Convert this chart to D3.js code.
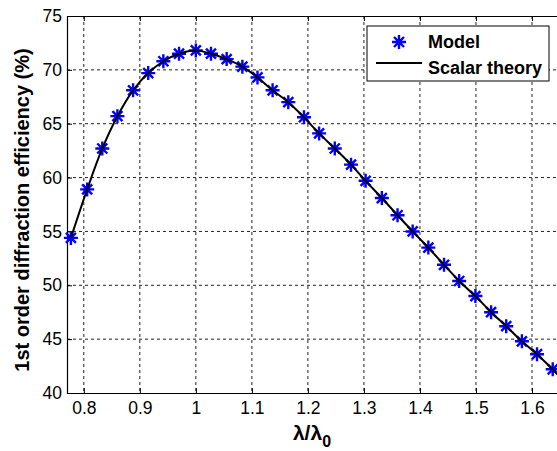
<!DOCTYPE html>
<html>
<head>
<meta charset="utf-8">
<script src="https://cdn.jsdelivr.net/npm/d3@7"></script>
<style>
  body { margin: 0; background: #fff; }
  svg { display: block; font-family: Arial, "Liberation Sans", sans-serif; }
</style>
</head>
<body>
<svg id="chart"></svg>
<script>
// data
const ratio = [0.777, 0.806, 0.833, 0.860, 0.888, 0.915, 0.942, 0.970, 1.000, 1.027,
               1.055, 1.083, 1.110, 1.137, 1.165, 1.193, 1.220, 1.248, 1.277, 1.303,
               1.332, 1.360, 1.387, 1.415, 1.443, 1.470, 1.499, 1.527, 1.554, 1.582,
               1.609, 1.637];
const model = [54.4, 58.9, 62.7, 65.7, 68.1, 69.7, 70.8, 71.5, 71.8, 71.5,
               71.0, 70.3, 69.3, 68.1, 67.0, 65.6, 64.1, 62.7, 61.2, 59.7,
               58.1, 56.5, 55.0, 53.5, 51.9, 50.4, 49.0, 47.5, 46.2, 44.8,
               43.6, 42.2];
// scalar theory curve, same samples plus the end at the right edge
const theoryX = ratio.concat([1.652]);
const theoryY = model.concat([41.5]);

const xTicks = [0.8, 0.9, 1, 1.1, 1.2, 1.3, 1.4, 1.5, 1.6];
const yTicks = [40, 45, 50, 55, 60, 65, 70, 75];

document.addEventListener('DOMContentLoaded', function () {
    const W = 557, H = 451;
    const margin = { top: 16, left: 67 };
    const width = 493, height = 377;

    const svg = d3.select('#chart').attr('width', W).attr('height', H);
    const g = svg.append('g').attr('transform', `translate(${margin.left},${margin.top})`);

    const x = d3.scaleLinear().domain([0.77, 1.65]).range([0, width]);
    const y = d3.scaleLinear().domain([40, 75]).range([height, 0]);

    // dashed grid
    g.append('g').selectAll('line').data(xTicks).join('line')
        .attr('x1', d => x(d)).attr('x2', d => x(d))
        .attr('y1', 0).attr('y2', height)
        .attr('stroke', '#222').attr('stroke-width', 1)
        .attr('stroke-dasharray', '3,3');
    g.append('g').selectAll('line').data(yTicks.slice(1, -1)).join('line')
        .attr('x1', 0).attr('x2', width)
        .attr('y1', d => y(d)).attr('y2', d => y(d))
        .attr('stroke', '#222').attr('stroke-width', 1)
        .attr('stroke-dasharray', '3,3');

    // axes (ticks point inward)
    const xAxis = g.append('g')
        .attr('transform', `translate(0,${height})`)
        .call(d3.axisBottom(x).tickValues(xTicks).tickFormat(d3.format('')).tickSizeInner(-5).tickSizeOuter(0).tickPadding(9));
    const xTop = g.append('g')
        .call(d3.axisTop(x).tickValues(xTicks).tickFormat('').tickSizeInner(-5).tickSizeOuter(0));
    const yAxis = g.append('g')
        .call(d3.axisLeft(y).tickValues(yTicks).tickSizeInner(-5).tickSizeOuter(0).tickPadding(5));

    [xAxis, xTop, yAxis].forEach(a => {
        a.select('.domain').attr('stroke', '#000').attr('stroke-width', 1.2);
        a.selectAll('.tick line').attr('stroke', '#000');
        a.selectAll('text').attr('fill', '#000').style('font-size', '17.5px')
            .style('font-family', 'Arial, "Liberation Sans", sans-serif');
    });

    // model markers (asterisks)
    const star = 'M-7,0H7M0,-7V7M-5,-5L5,5M-5,5L5,-5';
    g.append('g').selectAll('path').data(ratio).join('path')
        .attr('transform', (d, i) => `translate(${x(d)},${y(model[i])})`)
        .attr('d', star)
        .attr('stroke', '#0000ff').attr('stroke-width', 2.4)
        .attr('fill', 'none');

    // scalar theory line
    const line = d3.line()
        .x((d, i) => x(d))
        .y((d, i) => y(theoryY[i]))
        .curve(d3.curveCatmullRom);
    g.append('path')
        .datum(theoryX)
        .attr('d', line)
        .attr('fill', 'none')
        .attr('stroke', '#000')
        .attr('stroke-width', 2);

    // legend
    const lg = svg.append('g').attr('transform', 'translate(367,26)');
    lg.append('rect')
        .attr('width', 182).attr('height', 55)
        .attr('fill', '#fff').attr('stroke', '#000').attr('stroke-width', 1);
    lg.append('path')
        .attr('transform', 'translate(32,16)')
        .attr('d', star)
        .attr('stroke', '#0000ff').attr('stroke-width', 2.4);
    lg.append('line')
        .attr('x1', 9).attr('x2', 55).attr('y1', 37).attr('y2', 37)
        .attr('stroke', '#000').attr('stroke-width', 2);
    lg.append('text').attr('x', 61).attr('y', 22)
        .attr('font-size', '18px').attr('font-weight', 'bold').text('Model');
    lg.append('text').attr('x', 61).attr('y', 48)
        .attr('font-size', '18px').attr('font-weight', 'bold').text('Scalar theory');

    // axis labels
    const xl = svg.append('text')
        .attr('x', 312).attr('y', 440)
        .attr('text-anchor', 'middle')
        .attr('font-size', '21px').attr('font-weight', 'bold');
    xl.append('tspan').text('\u03bb/\u03bb');
    xl.append('tspan').attr('dy', 7).attr('font-size', '16px').text('0');

    svg.append('text')
        .attr('transform', 'rotate(-90)')
        .attr('x', -210).attr('y', 29)
        .attr('text-anchor', 'middle')
        .attr('font-size', '20px').attr('font-weight', 'bold')
        .text('1st order diffraction efficiency (%)');
});
</script>
</body>
</html>
